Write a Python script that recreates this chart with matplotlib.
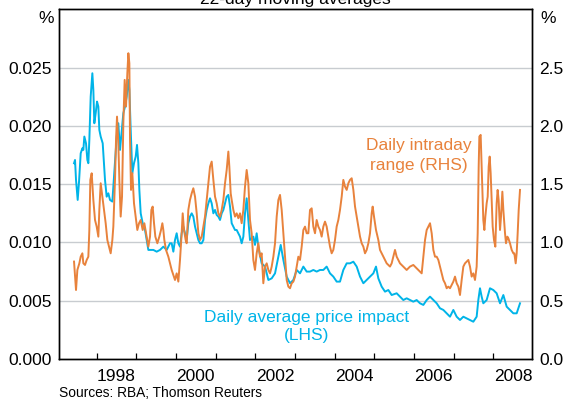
import matplotlib
matplotlib.use('Agg')
import matplotlib.pyplot as plt

plt.rcParams['font.family'] = ['Liberation Sans', 'DejaVu Sans']

BLUE = '#00B4E8'
ORANGE = '#E8823C'

# Daily average price impact (LHS, %)
blue_years = [
    1997.428, 1997.453, 1997.478, 1997.520, 1997.554, 1997.596, 1997.638, 1997.663, 1997.688, 1997.730,
    1997.764, 1997.789, 1997.814, 1997.848, 1997.890, 1997.915, 1997.940, 1997.974, 1998.008, 1998.041,
    1998.066, 1998.100, 1998.151, 1998.184, 1998.209, 1998.251, 1998.293, 1998.335, 1998.394, 1998.419,
    1998.461, 1998.504, 1998.545, 1998.587, 1998.671, 1998.714, 1998.756, 1998.798, 1998.823, 1998.857,
    1998.898, 1998.940, 1998.983, 1999.016, 1999.050, 1999.075, 1999.109, 1999.159, 1999.218, 1999.260,
    1999.302, 1999.344, 1999.428, 1999.512, 1999.596, 1999.680, 1999.764, 1999.848,
    1999.890, 1999.932, 1999.974, 2000.016, 2000.058, 2000.100, 2000.142, 2000.184, 2000.226, 2000.268,
    2000.310, 2000.352, 2000.395, 2000.436, 2000.479, 2000.521, 2000.563, 2000.605, 2000.647, 2000.689,
    2000.731, 2000.773, 2000.815, 2000.857, 2000.899, 2000.941, 2000.983, 2001.025, 2001.067, 2001.109,
    2001.151, 2001.193, 2001.235, 2001.277, 2001.319, 2001.361, 2001.403, 2001.445, 2001.487, 2001.529,
    2001.571, 2001.613, 2001.655, 2001.697, 2001.739, 2001.781, 2001.823, 2001.865,
    2001.949, 2001.991, 2002.033, 2002.075, 2002.159, 2002.244, 2002.328, 2002.412, 2002.496, 2002.580,
    2002.639, 2002.706, 2002.790, 2002.874, 2002.958, 2003.042, 2003.126, 2003.210, 2003.294, 2003.378,
    2003.462, 2003.546, 2003.630, 2003.714, 2003.798, 2003.882, 2003.966, 2004.050, 2004.134, 2004.218,
    2004.303, 2004.387, 2004.471, 2004.555, 2004.639, 2004.723, 2004.807, 2004.891, 2004.975, 2005.042,
    2005.101, 2005.185, 2005.269, 2005.353, 2005.437, 2005.563, 2005.647, 2005.731, 2005.815, 2005.899,
    2005.983, 2006.067, 2006.151, 2006.236, 2006.320, 2006.404, 2006.488, 2006.572, 2006.656, 2006.740,
    2006.824, 2006.908, 2006.950, 2006.992, 2007.076, 2007.160, 2007.244, 2007.328, 2007.412, 2007.496,
    2007.580, 2007.622, 2007.664, 2007.706, 2007.748, 2007.832, 2007.916, 2008.000, 2008.084, 2008.169,
    2008.253, 2008.337, 2008.421, 2008.505, 2008.589, 2008.673,
]
blue_vals = [
    0.01680, 0.01708, 0.01537, 0.01365, 0.01522, 0.01765, 0.01808, 0.01794, 0.01909, 0.01851,
    0.01708, 0.01680, 0.01880, 0.02252, 0.02452, 0.02309, 0.02023, 0.02109, 0.02209, 0.02166,
    0.01966, 0.01909, 0.01851, 0.01680, 0.01537, 0.01393, 0.01422, 0.01365, 0.01351, 0.01479,
    0.01708, 0.01909, 0.02023, 0.01794, 0.02109, 0.02166, 0.02252, 0.02395, 0.02309, 0.01966,
    0.01594, 0.01680, 0.01737, 0.01837, 0.01680, 0.01451, 0.01250, 0.01165, 0.01107, 0.01021,
    0.00936, 0.00936, 0.00936, 0.00921, 0.00936, 0.00964, 0.00936, 0.00993,
    0.00993, 0.00921, 0.01021, 0.01079, 0.00993, 0.00964, 0.01079, 0.01136, 0.01079, 0.01021,
    0.01165, 0.01222, 0.01250, 0.01222, 0.01136, 0.01079, 0.01021, 0.00993, 0.00993, 0.01021,
    0.01193, 0.01279, 0.01336, 0.01379, 0.01336, 0.01250, 0.01279, 0.01236, 0.01222, 0.01193,
    0.01250, 0.01279, 0.01336, 0.01393, 0.01408, 0.01308, 0.01165, 0.01136, 0.01107, 0.01107,
    0.01079, 0.01050, 0.00993, 0.01050, 0.01250, 0.01379, 0.01193, 0.01021,
    0.01050, 0.00979, 0.01079, 0.00964, 0.00821, 0.00793, 0.00678, 0.00692, 0.00735, 0.00878,
    0.00979, 0.00850, 0.00707, 0.00650, 0.00678, 0.00764, 0.00735, 0.00793, 0.00750, 0.00750,
    0.00764, 0.00750, 0.00764, 0.00764, 0.00793, 0.00735, 0.00707, 0.00664, 0.00664, 0.00764,
    0.00821, 0.00821, 0.00835, 0.00793, 0.00707, 0.00650, 0.00678, 0.00707, 0.00735, 0.00793,
    0.00692, 0.00621, 0.00578, 0.00592, 0.00549, 0.00564, 0.00535, 0.00506, 0.00521, 0.00506,
    0.00492, 0.00506, 0.00478, 0.00464, 0.00506, 0.00535, 0.00506, 0.00478, 0.00435, 0.00421,
    0.00392, 0.00363, 0.00392, 0.00421, 0.00363, 0.00335, 0.00363, 0.00349, 0.00335, 0.00320,
    0.00363, 0.00506, 0.00607, 0.00535, 0.00478, 0.00506, 0.00607, 0.00592, 0.00564, 0.00478,
    0.00549, 0.00449, 0.00421, 0.00392, 0.00392, 0.00478,
]

# Daily intraday range (RHS, %)
orange_years = [
    1997.428, 1997.478, 1997.512, 1997.562, 1997.596, 1997.638, 1997.663, 1997.705, 1997.747, 1997.789,
    1997.814, 1997.839, 1997.873, 1997.915, 1997.957, 1997.999, 1998.041, 1998.066, 1998.100, 1998.142,
    1998.184, 1998.226, 1998.268, 1998.310, 1998.352, 1998.394, 1998.419, 1998.461, 1998.487, 1998.512,
    1998.545, 1998.571, 1998.604, 1998.638, 1998.671, 1998.705, 1998.739, 1998.772, 1998.798, 1998.823,
    1998.840, 1998.865, 1998.898, 1998.940, 1998.983, 1999.024, 1999.067, 1999.109, 1999.159, 1999.201,
    1999.243, 1999.302, 1999.344, 1999.378, 1999.411, 1999.445, 1999.478, 1999.529, 1999.579, 1999.621,
    1999.655, 1999.680, 1999.705, 1999.747, 1999.806, 1999.848,
    1999.890, 1999.932, 1999.974, 2000.016, 2000.058, 2000.100, 2000.142, 2000.168, 2000.201, 2000.243,
    2000.268, 2000.310, 2000.352, 2000.395, 2000.436, 2000.479, 2000.521, 2000.563, 2000.605, 2000.647,
    2000.689, 2000.731, 2000.773, 2000.815, 2000.857, 2000.899, 2000.941, 2000.983, 2001.025, 2001.067,
    2001.109, 2001.151, 2001.193, 2001.235, 2001.277, 2001.319, 2001.344, 2001.378, 2001.403, 2001.445,
    2001.487, 2001.529, 2001.571, 2001.613, 2001.655, 2001.697, 2001.739, 2001.781, 2001.823, 2001.865,
    2001.907, 2001.949, 2001.991, 2002.033, 2002.075, 2002.117, 2002.159, 2002.201, 2002.244, 2002.286,
    2002.328, 2002.370, 2002.412, 2002.454, 2002.496, 2002.538, 2002.580, 2002.622, 2002.664, 2002.706,
    2002.748, 2002.790, 2002.832, 2002.874, 2002.916, 2002.958, 2003.000, 2003.042, 2003.084, 2003.126,
    2003.168, 2003.210, 2003.252, 2003.294, 2003.336, 2003.378, 2003.420, 2003.462, 2003.504, 2003.546,
    2003.588, 2003.630, 2003.672, 2003.714, 2003.756, 2003.798, 2003.840, 2003.882, 2003.924, 2003.966,
    2004.008, 2004.050, 2004.092, 2004.134, 2004.177, 2004.218, 2004.261, 2004.303, 2004.345, 2004.387,
    2004.429, 2004.471, 2004.513, 2004.555, 2004.597, 2004.639, 2004.681, 2004.723, 2004.765, 2004.807,
    2004.849, 2004.891, 2004.933, 2004.958, 2004.992, 2005.042, 2005.101, 2005.143, 2005.185, 2005.227,
    2005.311, 2005.395, 2005.437, 2005.479, 2005.521, 2005.563, 2005.647, 2005.731, 2005.815, 2005.899,
    2005.983, 2006.067, 2006.151, 2006.194, 2006.236, 2006.278, 2006.320, 2006.362, 2006.404, 2006.446,
    2006.488, 2006.530, 2006.572, 2006.614, 2006.656, 2006.698, 2006.740, 2006.782, 2006.824, 2006.866,
    2006.908, 2006.950, 2006.992, 2007.034, 2007.076, 2007.118, 2007.160, 2007.202, 2007.244, 2007.286,
    2007.328, 2007.370, 2007.412, 2007.454, 2007.496, 2007.538, 2007.580, 2007.606, 2007.631, 2007.648,
    2007.681, 2007.706, 2007.731, 2007.748, 2007.774, 2007.799, 2007.832, 2007.858, 2007.883, 2007.908,
    2007.933, 2007.959, 2007.984, 2008.017, 2008.051, 2008.084, 2008.109, 2008.134, 2008.169, 2008.194,
    2008.228, 2008.253, 2008.295, 2008.320, 2008.354, 2008.379, 2008.421, 2008.463, 2008.505, 2008.530,
    2008.564, 2008.589, 2008.614, 2008.640, 2008.673,
]
orange_vals = [
    0.836, 0.592, 0.764, 0.821, 0.878, 0.907, 0.821, 0.807, 0.850, 0.878,
    1.107, 1.537, 1.594, 1.365, 1.193, 1.136, 1.050, 1.279, 1.508, 1.393,
    1.279, 1.165, 1.021, 0.964, 0.907, 1.021, 1.136, 1.537, 1.880, 2.080,
    1.851, 1.537, 1.222, 1.393, 2.023, 2.395, 2.166, 2.452, 2.624, 2.538,
    1.880, 1.451, 1.594, 1.336, 1.222, 1.107, 1.165, 1.193, 1.107, 1.165,
    1.079, 0.964, 1.050, 1.279, 1.308, 1.165, 1.050, 0.993, 1.050, 1.107,
    1.165, 1.107, 1.021, 0.936, 0.878, 0.821,
    0.764, 0.721, 0.678, 0.735, 0.664, 0.850, 1.079, 1.250, 1.107, 1.021,
    0.993, 1.279, 1.365, 1.422, 1.465, 1.393, 1.250, 1.079, 1.021, 1.050,
    1.136, 1.222, 1.365, 1.508, 1.651, 1.694, 1.537, 1.393, 1.336, 1.250,
    1.222, 1.279, 1.365, 1.508, 1.622, 1.780, 1.651, 1.422, 1.365, 1.279,
    1.222, 1.250, 1.208, 1.250, 1.165, 1.279, 1.479, 1.622, 1.508, 1.193,
    1.079, 0.850, 0.764, 0.907, 0.993, 0.878, 0.907, 0.650, 0.793, 0.821,
    0.764, 0.735, 0.793, 0.878, 0.993, 1.222, 1.365, 1.408, 1.279, 1.079,
    0.878, 0.678, 0.621, 0.607, 0.650, 0.664, 0.707, 0.793, 0.878, 0.850,
    0.964, 1.107, 1.136, 1.079, 1.079, 1.279, 1.293, 1.136, 1.079, 1.193,
    1.136, 1.107, 1.050, 1.136, 1.179, 1.136, 1.050, 0.964, 0.907, 0.936,
    1.021, 1.136, 1.193, 1.279, 1.393, 1.537, 1.479, 1.451, 1.508, 1.537,
    1.551, 1.451, 1.308, 1.222, 1.136, 1.050, 0.993, 0.964, 0.907, 0.936,
    0.993, 1.079, 1.250, 1.308, 1.222, 1.107, 1.021, 0.936, 0.907, 0.878,
    0.821, 0.793, 0.821, 0.878, 0.936, 0.878, 0.821, 0.793, 0.764, 0.793,
    0.807, 0.778, 0.750, 0.735, 0.878, 1.021, 1.107, 1.136, 1.165, 1.079,
    0.936, 0.878, 0.878, 0.850, 0.793, 0.735, 0.678, 0.650, 0.607, 0.621,
    0.607, 0.635, 0.664, 0.707, 0.650, 0.621, 0.549, 0.678, 0.793, 0.821,
    0.835, 0.850, 0.793, 0.707, 0.735, 0.678, 0.793, 1.079, 1.651, 1.909,
    1.923, 1.651, 1.365, 1.193, 1.107, 1.222, 1.336, 1.393, 1.651, 1.737,
    1.594, 1.365, 1.136, 1.021, 0.964, 1.336, 1.451, 1.365, 1.107, 1.222,
    1.436, 1.279, 1.079, 0.993, 1.050, 1.036, 0.993, 0.936, 0.907, 0.907,
    0.821, 0.907, 1.079, 1.279, 1.451,
]

left_ticks = [0.000, 0.005, 0.010, 0.015, 0.020, 0.025]
left_labels = ['0.000', '0.005', '0.010', '0.015', '0.020', '0.025']
right_ticks = [0.0, 0.5, 1.0, 1.5, 2.0, 2.5]
right_labels = ['0.0', '0.5', '1.0', '1.5', '2.0', '2.5']
year_ticks = list(range(1998, 2009))
year_labels = ['1998', '2000', '2002', '2004', '2006', '2008']
year_label_pos = [1998.5, 2000.5, 2002.5, 2004.5, 2006.5, 2008.5]

FS = 12.5

fig = plt.figure(figsize=(5.65, 4.0), dpi=100)
ax = fig.add_axes([59 / 565, 41 / 400, (532.3 - 59) / 565, (359 - 9.4) / 400])
ax.set_xlim(1997.049, 2008.983)
ax.set_ylim(0, 0.030)

for v in left_ticks[1:]:
    ax.axhline(v, color='#c8ccd0', lw=1.0, zorder=0)

ax.plot(blue_years, blue_vals, color=BLUE, lw=1.4, zorder=2)

ax2 = ax.twinx()
ax2.set_ylim(0, 3.0)
ax2.plot(orange_years, orange_vals, color=ORANGE, lw=1.4, zorder=3)

ax.set_yticks(left_ticks)
ax.set_yticklabels(left_labels)
ax.tick_params(axis='y', length=0, pad=5.3, labelsize=FS)
ax2.set_yticks(right_ticks)
ax2.set_yticklabels(right_labels)
ax2.tick_params(axis='y', length=0, pad=5.0, labelsize=FS)

ax.set_xticks(year_ticks)
ax.set_xticklabels([''] * len(year_ticks))
ax.tick_params(axis='x', which='major', direction='in', length=4.3, width=0.9, color='black')
ax.set_xticks(year_label_pos, minor=True)
ax.set_xticklabels(year_labels, minor=True)
ax.tick_params(axis='x', which='minor', length=0, pad=7, labelsize=FS)

for a in (ax, ax2):
    for s in a.spines.values():
        s.set_color('black')
        s.set_linewidth(1.0)

ax.text(2006.13, 0.01794, 'Daily intraday', color=ORANGE, ha='center', va='baseline', fontsize=FS)
ax.text(2006.13, 0.01622, 'range (RHS)', color=ORANGE, ha='center', va='baseline', fontsize=FS)
ax.text(2003.29, 0.00320, 'Daily average price impact', color=BLUE, ha='center', va='baseline', fontsize=FS)
ax.text(2003.30, 0.00163, '(LHS)', color=BLUE, ha='center', va='baseline', fontsize=FS)

fig.text(295.7 / 565, (400 - 3.6) / 400, '22-day moving averages', ha='center', va='baseline', fontsize=FS)
fig.text(54 / 565, (400 - 23) / 400, '%', ha='right', va='baseline', fontsize=FS)
fig.text(540 / 565, (400 - 23) / 400, '%', ha='left', va='baseline', fontsize=FS)
fig.text(59 / 565, 3 / 400, 'Sources: RBA; Thomson Reuters', ha='left', va='baseline', fontsize=9.9)

fig.savefig('out.png', dpi=100)
